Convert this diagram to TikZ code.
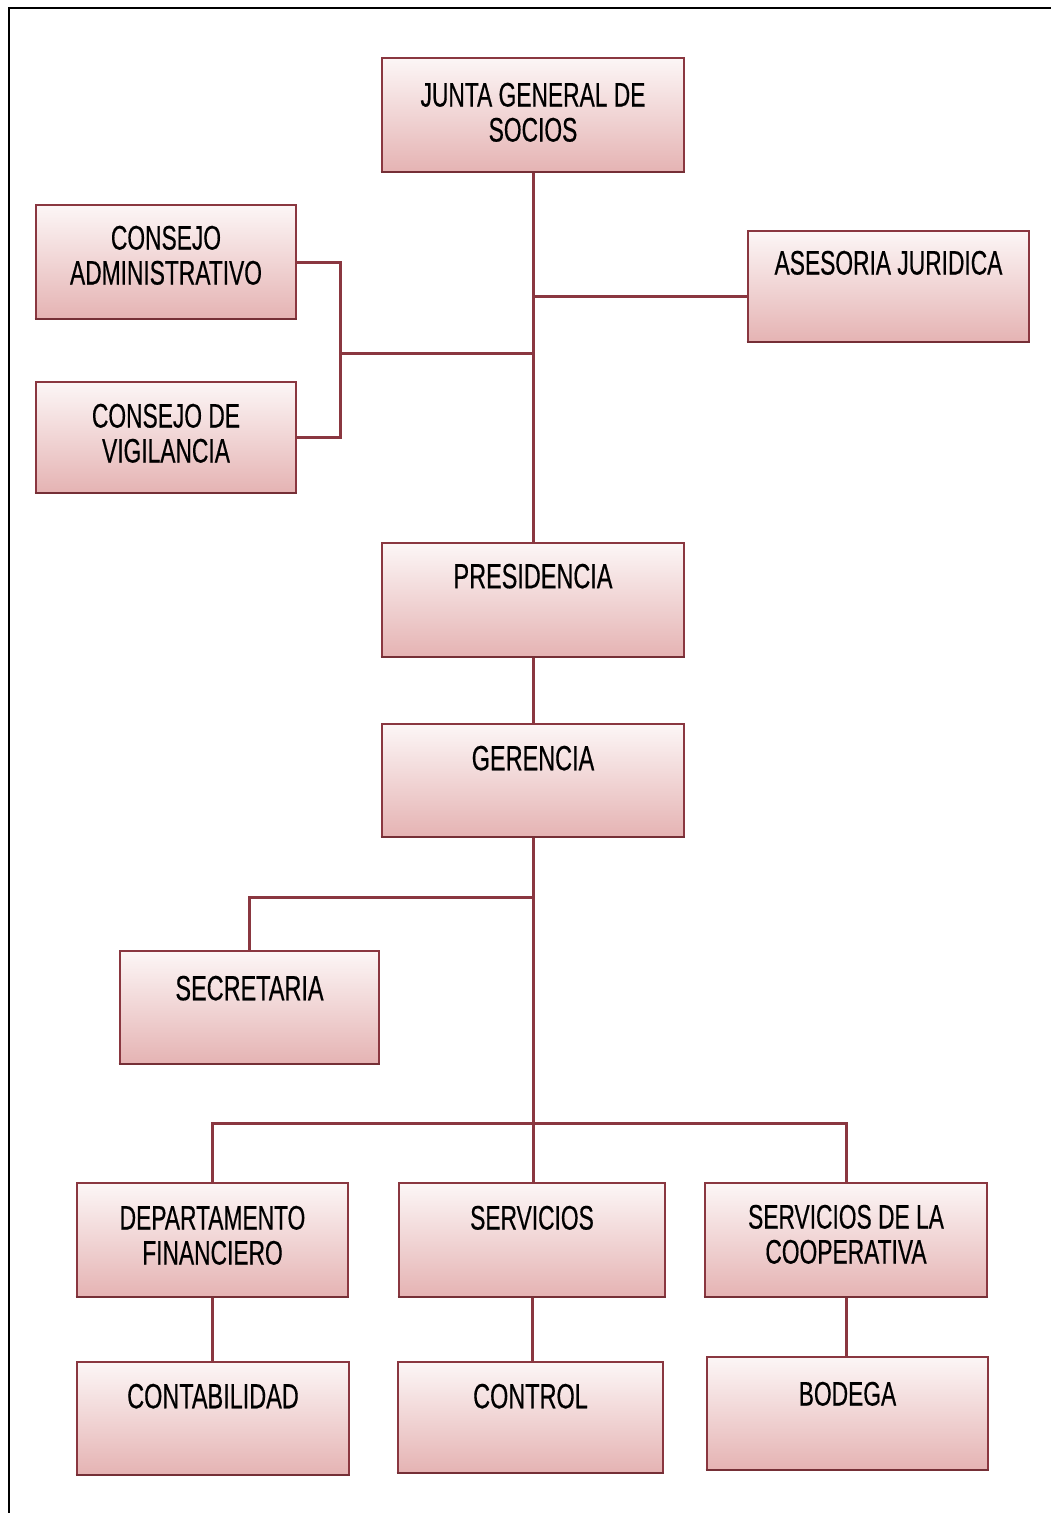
\documentclass[tikz,border=0pt]{standalone}
\usepackage{fontspec}
\setmainfont{Liberation Sans}[FakeStretch=0.67, FakeBold=0.4]
\definecolor{edge}{HTML}{8A3740}
\definecolor{pinkbot}{HTML}{E5B3B3}
\definecolor{pinktop}{HTML}{FCF6F6}

\tikzset{
  unitbox/.style={draw=edge, line width=2.8pt, top color=pinktop, bottom color=pinkbot, inner sep=0pt},
  unittitle/.style={anchor=north, align=center, font=\fontsize{34}{35}\selectfont, inner sep=0pt, text=black},
  link/.style={draw=edge, line width=3pt},
  baseedge/.style={draw=edge!85!black, line width=2pt},
}

% name, left, top, right, bottom, gap above text, text
\newcommand\orgunit[7]{%
  \node[unitbox, minimum width={(#4-#2)*1pt}, minimum height={(#5-#3)*1pt}] (#1) at ({(#2+#4)/2},{(#3+#5)/2}) {};
  \draw[baseedge] ([yshift=1.5pt]#1.south west) -- ([yshift=1.5pt]#1.south east);
  \node[unittitle] (#1-t) at ([yshift=-#6pt]#1.north) {#7};
}

\begin{document}
\begin{tikzpicture}[x=1pt, y=-1pt]
  \useasboundingbox (0,0) rectangle (1051,1513);
  \fill[white] (0,0) rectangle (1051,1513);

  % outer frame
  \draw[black, line width=2.5pt] (9,1513) -- (9,8) -- (1051,8);

  % units
  \orgunit{junta}{382}{58}{684}{172}{26}{JUNTA GENERAL DE\\SOCIOS}
  \orgunit{cadm}{36}{205}{296}{319}{22}{CONSEJO\\ADMINISTRATIVO}
  \orgunit{cvig}{36}{382}{296}{493}{23}{CONSEJO DE\\VIGILANCIA}
  \orgunit{aseso}{748}{231}{1029}{342}{21}{ASESORIA JURIDICA}
  \orgunit{pres}{382}{543}{684}{657}{22}{\fontsize{35}{35}\selectfont PRESIDENCIA}
  \orgunit{ger}{382}{724}{684}{837}{23}{\fontsize{35}{35}\selectfont GERENCIA}
  \orgunit{secr}{120}{951}{379}{1064}{26}{\fontsize{35}{35}\selectfont SECRETARIA}
  \orgunit{dep}{77}{1183}{348}{1297}{24}{DEPARTAMENTO\\FINANCIERO}
  \orgunit{serv}{399}{1183}{665}{1297}{24}{SERVICIOS}
  \orgunit{coop}{705}{1183}{987}{1297}{23}{SERVICIOS DE LA\\COOPERATIVA}
  \orgunit{conta}{77}{1362}{349}{1475}{23}{\fontsize{35}{35}\selectfont CONTABILIDAD}
  \orgunit{ctrl}{398}{1362}{663}{1473}{23}{\fontsize{35}{35}\selectfont CONTROL}
  \orgunit{bod}{707}{1357}{988}{1470}{26}{BODEGA}

  % junction points
  \coordinate (brk) at (340,353);
  \coordinate (asj) at (533,296);
  \coordinate (secj) at (533,897);
  \coordinate (bus) at (533,1123);

  % connectors
  \draw[link] (junta.south) -- (pres.north);
  \draw[link] (asj) -- (asj -| aseso.west);
  \draw[link] (cadm.east) -- (cadm.east -| brk) -- (cvig.east -| brk) -- (cvig.east);
  \draw[link] (brk) -- (brk -| junta.south);
  \draw[link] (pres.south) -- (ger.north);
  \draw[link] (ger.south) -- (ger.south |- serv.north);
  \draw[link] (secj) -| (secr.north);
  \draw[link] (dep.north) |- (coop.north |- bus) -- (coop.north);
  \draw[link] (dep.south) -- (dep.south |- conta.north);
  \draw[link] (serv.south) -- (serv.south |- ctrl.north);
  \draw[link] (coop.south) -- (coop.south |- bod.north);
\end{tikzpicture}
\end{document}
